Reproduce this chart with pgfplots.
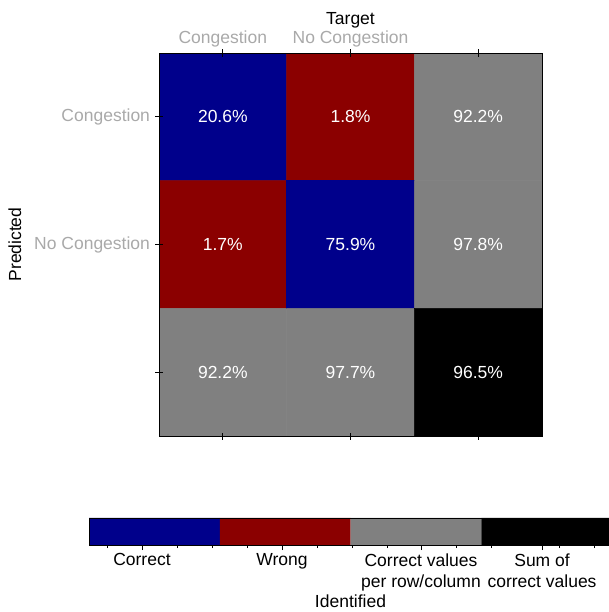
\documentclass[border=0pt]{standalone}
\usepackage{fontspec}
\setmainfont{Liberation Sans}
\usepackage{pgfplots}
\pgfplotsset{compat=1.18}
\usepackage{pgfplotstable}

\definecolor{cmblue}{RGB}{0,0,139}
\definecolor{cmred}{RGB}{139,0,0}
\definecolor{cmgray}{RGB}{128,128,128}
\definecolor{ticktext}{RGB}{169,169,169}

% confusion matrix: column x = target, row y = predicted
% c = colour class (0 correct, 1 wrong, 2 per row/column, 3 total)
\pgfplotstableread{
x y c v
0 0 0 20.6
1 0 1 1.8
2 0 2 92.2
0 1 1 1.7
1 1 0 75.9
2 1 2 97.8
0 2 2 92.2
1 2 2 97.7
2 2 3 96.5
}\cmdata

\begin{document}
\begin{tikzpicture}[font=\fontsize{17.5bp}{21bp}\selectfont]
\begin{axis}[
  at={(159bp,176bp)}, anchor=south west,
  width=383bp, height=383bp, scale only axis,
  axis on top,
  xmin=-0.5, xmax=2.5, ymin=-0.5, ymax=2.5,
  y dir=reverse,
  axis line style={black, line width=0.8pt},
  xtick={0,1,2}, xticklabels={Congestion, No Congestion, {}},
  xtick pos=both, xticklabel pos=right,
  ytick={0,1,2}, yticklabels={Congestion, No Congestion, {}},
  ytick pos=left,
  tick align=center, major tick length=7bp,
  tick style={black, line width=0.8pt},
  ticklabel style={text=ticktext},
  xticklabel style={yshift=-1bp},
  yticklabel style={xshift=-2bp},
  xlabel={Target}, ylabel={Predicted},
  xlabel style={yshift=-4bp},
  ylabel style={yshift=6bp},
  colormap={confusion}{rgb255=(0,0,139) rgb255=(139,0,0) rgb255=(128,128,128) rgb255=(0,0,0)},
  colormap access=direct,
  /pgf/number format/assume math mode=true,
]
\addplot[matrix plot*, mesh/cols=3, point meta=explicit]
  table[x=x, y=y, meta=c] {\cmdata};
\addplot[only marks, mark size=0pt, point meta=explicit,
  nodes near coords={\pgfmathprintnumber[fixed, fixed zerofill, precision=1]{\pgfplotspointmeta}\%},
  every node near coord/.style={anchor=center, text=white}]
  table[x=x, y=y, meta=v] {\cmdata};
\end{axis}

% legend bar for the colour classes
\begin{axis}[
  at={(89bp,67bp)}, anchor=south west,
  width=523bp, height=27bp, scale only axis,
  axis on top,
  xmin=0, xmax=4, ymin=0, ymax=1,
  axis line style={black, line width=0.8pt},
  ytick=\empty,
  xtick pos=bottom, tick align=outside,
  xtick={0.405,1.476,2.539,3.465},
  xticklabels={Correct, Wrong, {Correct values\\per row/column}, {Sum of\\correct values}},
  xticklabel style={align=center, text=black, yshift=0bp},
  minor xtick={0.138,0.673,0.941,1.209,1.744,2.012,2.279,2.806,3.074,3.600,3.868},
  major tick length=5bp, minor tick length=3bp,
  tick style={black, line width=0.6pt},
  xlabel={Identified},
  xlabel style={yshift=3bp},
]
\addplot[fill=cmblue, draw=none] coordinates {(0,0) (1,0) (1,1) (0,1)} \closedcycle;
\addplot[fill=cmred, draw=none] coordinates {(1,0) (2,0) (2,1) (1,1)} \closedcycle;
\addplot[fill=cmgray, draw=none] coordinates {(2,0) (3,0) (3,1) (2,1)} \closedcycle;
\addplot[fill=black, draw=none] coordinates {(3,0) (4,0) (4,1) (3,1)} \closedcycle;
\end{axis}

\pgfresetboundingbox
\useasboundingbox (0,0) rectangle (609bp,612bp);
\end{tikzpicture}
\end{document}
